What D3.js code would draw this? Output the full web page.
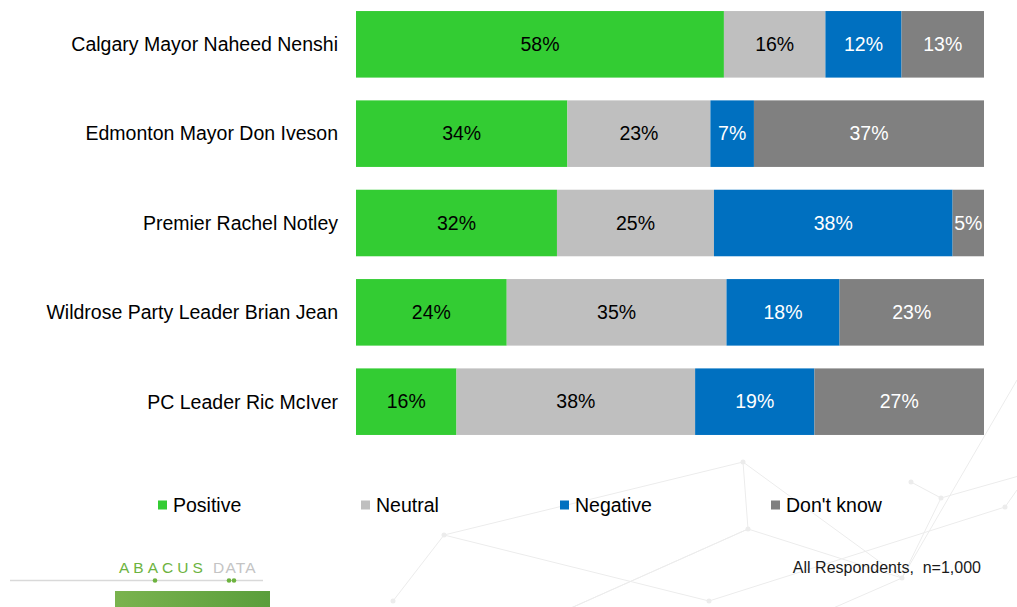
<!DOCTYPE html>
<html>
<head>
<meta charset="utf-8">
<script src="https://cdn.jsdelivr.net/npm/d3@7"></script>
<style>
  html, body { margin: 0; padding: 0; background: #fff; }
  svg { display: block; font-family: "Liberation Sans", Arial, sans-serif; }
</style>
</head>
<body>
<div id="chart"></div>
<script>
// Data
const leaders = [
  'Calgary Mayor Naheed Nenshi',
  'Edmonton Mayor Don Iveson',
  'Premier Rachel Notley',
  'Wildrose Party Leader Brian Jean',
  'PC Leader Ric McIver'
];
const seriesNames = ['Positive', 'Neutral', 'Negative', "Don't know"];
const positive = [58, 34, 32, 24, 16];
const neutral = [16, 23, 25, 35, 38];
const negative = [12, 7, 38, 18, 19];
const dontKnow = [13, 37, 5, 23, 27];

const colors = ['#33CC33', '#BFBFBF', '#0070C0', '#808080'];
const labelColors = ['#000', '#000', '#fff', '#fff'];

const width = 1017, height = 607;
const config = {
  barLeft: 356,
  barRight: 984,
  plotTop: -0.35,
  plotBottom: 446.35,
  legendY: 505
};

// 100% stacked: each bar normalised to its own total
const rows = leaders.map((name, i) => {
  const vals = [positive[i], neutral[i], negative[i], dontKnow[i]];
  const total = d3.sum(vals);
  let acc = 0;
  const segs = vals.map((v, k) => {
    const s = { name, series: k, value: v, x0: acc / total, x1: (acc + v) / total };
    acc += v;
    return s;
  });
  return { name, segs };
});

const svg = d3.select('#chart').append('svg')
  .attr('width', width)
  .attr('height', height);

// Faint network decoration in the background
const deco = svg.append('g').attr('stroke', '#ececec').attr('fill', 'none').attr('stroke-width', 1);
const nodes = [[393, 601], [444, 535], [553, 616], [743, 462], [748, 529], [709, 601],
  [902, 578], [911, 482], [941, 498], [1005, 507], [1040, 470], [760, 640]];
const links = [[0, 1], [1, 3], [3, 4], [4, 2], [1, 5], [3, 6], [4, 6], [6, 8], [7, 8], [8, 10], [5, 9], [2, 4], [6, 11]];
links.forEach(([a, b]) => {
  deco.append('line')
    .attr('x1', nodes[a][0]).attr('y1', nodes[a][1])
    .attr('x2', nodes[b][0]).attr('y2', nodes[b][1]);
});
deco.append('line').attr('x1', 902).attr('y1', 578).attr('x2', 1017).attr('y2', 380);
deco.append('line').attr('x1', 1005).attr('y1', 507).attr('x2', 1017).attr('y2', 490);
deco.selectAll('circle').data(nodes).join('circle')
  .attr('cx', d => d[0]).attr('cy', d => d[1]).attr('r', 2.5)
  .attr('fill', '#ececec').attr('stroke', 'none');

// Scales
const x = d3.scaleLinear().domain([0, 1]).range([config.barLeft, config.barRight]);
const y = d3.scaleBand()
  .domain(leaders)
  .range([config.plotTop, config.plotBottom])
  .paddingInner(0.255)
  .paddingOuter(0.1275);

// Category labels
svg.append('g').selectAll('text')
  .data(leaders)
  .join('text')
  .attr('x', config.barLeft - 18)
  .attr('y', d => y(d) + y.bandwidth() / 2)
  .attr('dy', '0.35em')
  .attr('text-anchor', 'end')
  .attr('font-size', '19.5px')
  .attr('fill', '#000')
  .text(d => d);

// Bars
const rowG = svg.append('g').selectAll('g.row')
  .data(rows)
  .join('g')
  .attr('class', 'row')
  .attr('transform', d => `translate(0, ${y(d.name)})`);

rowG.selectAll('rect')
  .data(d => d.segs)
  .join('rect')
  .attr('x', d => x(d.x0))
  .attr('width', d => x(d.x1) - x(d.x0))
  .attr('y', 0)
  .attr('height', y.bandwidth())
  .attr('fill', d => colors[d.series]);

rowG.selectAll('text')
  .data(d => d.segs)
  .join('text')
  .attr('x', d => (x(d.x0) + x(d.x1)) / 2)
  .attr('y', y.bandwidth() / 2)
  .attr('dy', '0.35em')
  .attr('text-anchor', 'middle')
  .attr('font-size', '19.5px')
  .attr('fill', d => labelColors[d.series])
  .text(d => `${d.value}%`);

// Legend
const legendX = [158, 361, 560, 771];
const legend = svg.append('g').selectAll('g')
  .data(seriesNames)
  .join('g')
  .attr('transform', (d, i) => `translate(${legendX[i]}, ${config.legendY})`);
legend.append('rect')
  .attr('x', 0).attr('y', -4.5)
  .attr('width', 9).attr('height', 9)
  .attr('fill', (d, i) => colors[i]);
legend.append('text')
  .attr('x', 15)
  .attr('y', 0)
  .attr('dy', '0.35em')
  .attr('font-size', '19.5px')
  .attr('fill', '#000')
  .text(d => d);

// Footnote
svg.append('text')
  .attr('x', 981)
  .attr('y', 567)
  .attr('dy', '0.35em')
  .attr('text-anchor', 'end')
  .attr('font-size', '16px')
  .attr('fill', '#1a1a1a')
  .style('white-space', 'pre')
  .text('All Respondents,  n=1,000');

// Logo
const logo = svg.append('g');
const grad = svg.append('defs').append('linearGradient').attr('id', 'logoGrad');
grad.append('stop').attr('offset', '0%').attr('stop-color', '#7ab34e');
grad.append('stop').attr('offset', '100%').attr('stop-color', '#5a9e3c');
logo.append('text')
  .attr('x', 119).attr('y', 573)
  .attr('font-size', '15.5px')
  .attr('letter-spacing', '4px')
  .attr('fill', '#6db33f')
  .text('ABACUS');
logo.append('text')
  .attr('x', 213).attr('y', 573)
  .attr('font-size', '15.5px')
  .attr('letter-spacing', '1.2px')
  .attr('fill', '#c4c4c4')
  .text('DATA');
logo.append('line')
  .attr('x1', 10).attr('x2', 263)
  .attr('y1', 580.5).attr('y2', 580.5)
  .attr('stroke', '#d9d9d9').attr('stroke-width', 1.5);
logo.selectAll('circle')
  .data([155, 229, 234])
  .join('circle')
  .attr('cx', d => d).attr('cy', 580.5).attr('r', 2.3)
  .attr('fill', '#6db33f');
logo.append('rect')
  .attr('x', 115).attr('y', 591)
  .attr('width', 155).attr('height', 16)
  .attr('fill', 'url(#logoGrad)');
</script>
</body>
</html>
